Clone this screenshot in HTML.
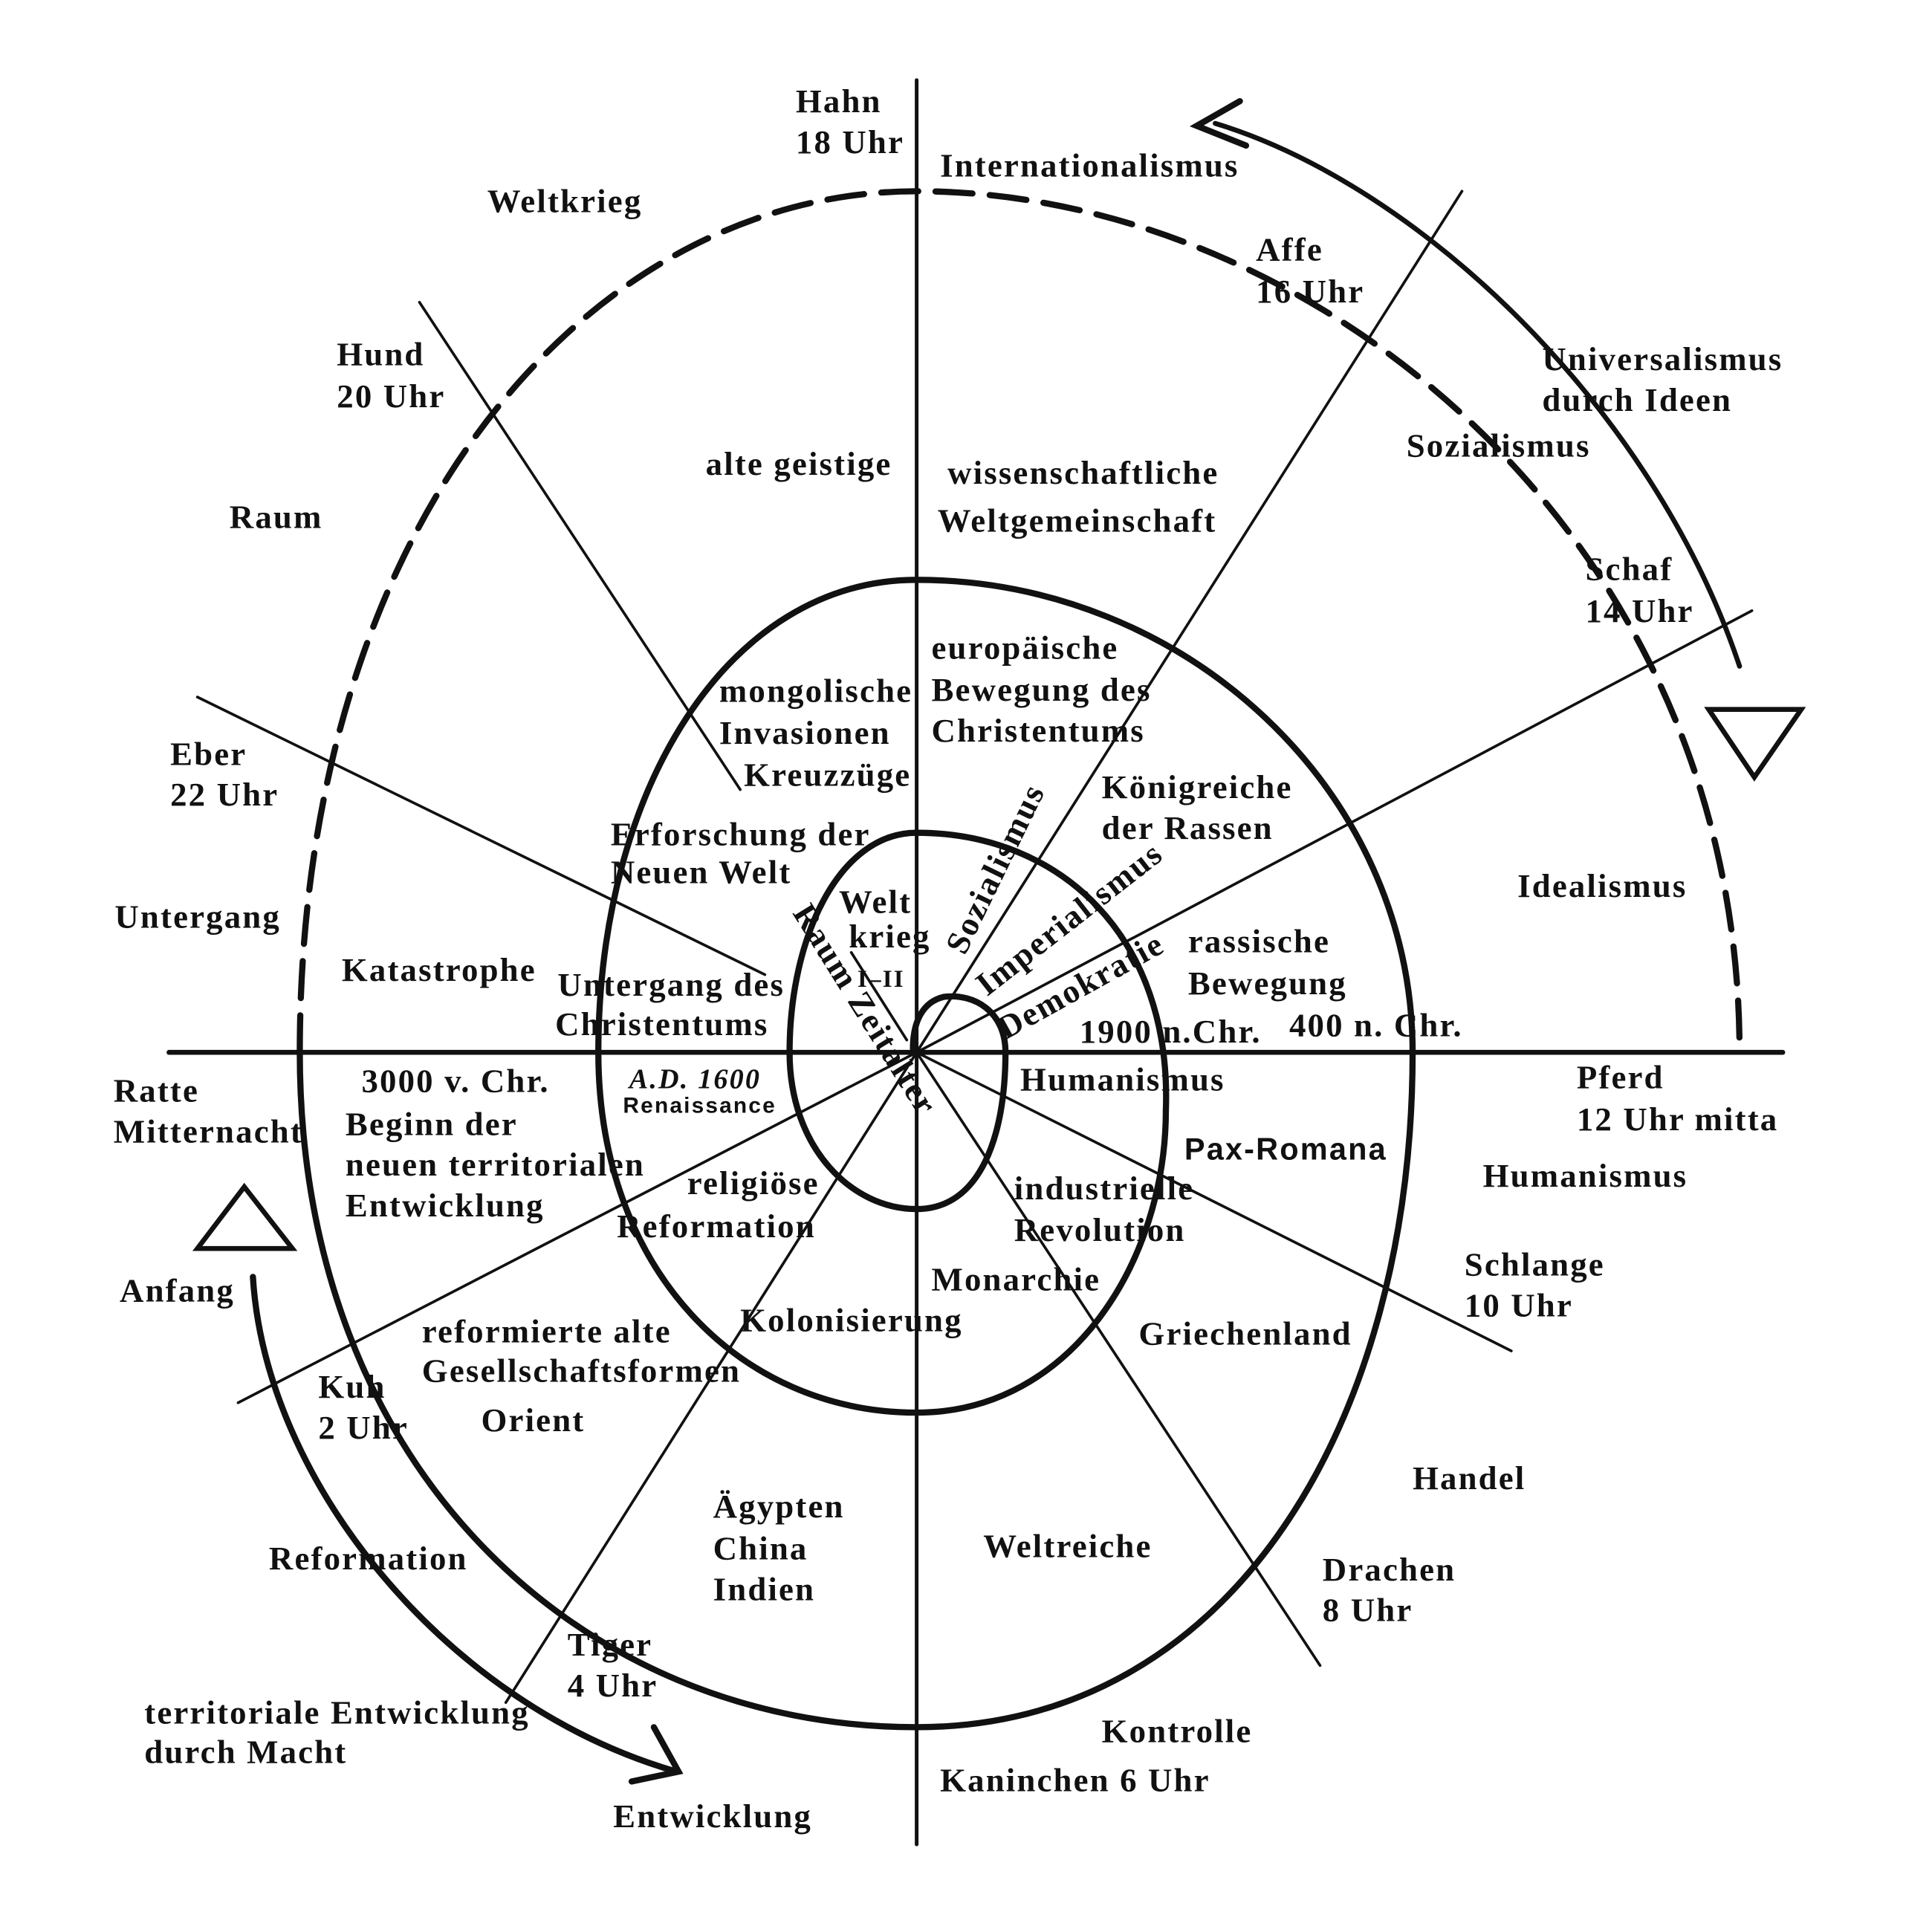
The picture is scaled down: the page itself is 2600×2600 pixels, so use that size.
<!DOCTYPE html>
<html><head><meta charset="utf-8"><style>
html,body{margin:0;padding:0;background:#fff}
svg{display:block}
text{font-family:"Liberation Serif",serif;font-weight:bold;font-size:27px;letter-spacing:1.3px;fill:#111}
</style></head><body>
<svg width="2600" height="2600" viewBox="0 0 1566 1566" xmlns="http://www.w3.org/2000/svg">
<g stroke="#111" fill="none" stroke-linecap="round">
<line x1="137" y1="853" x2="1445" y2="853" stroke-width="4"/>
<line x1="743" y1="65" x2="743" y2="1495" stroke-width="3"/>
<path d="M243,853 C243,420 480,155 743,155 C1060,155 1410,430 1410,853" stroke-width="5" stroke-dasharray="30,14"/>
<path d="M243,853 C243,1190 470,1400 743,1400 C1000,1400 1145,1150 1145,853 C1145,640 960,470 743,470 C590,470 485,640 485,853 C485,1030 600,1145 743,1145 C870,1145 945,1020 945,900" stroke-width="5"/>
<path d="M945,900 C950,760 860,675 743,675 C680,675 640,760 640,853 C640,930 690,980 743,980 C795,980 815,920 815,853 C815,820 790,805 765,808 C748,812 740,828 740,850" stroke-width="5"/>
<g stroke-width="2.2">
<line x1="743" y1="853" x2="1185" y2="155"/>
<line x1="743" y1="853" x2="1420" y2="495"/>
<line x1="340" y1="245" x2="600" y2="640"/>
<line x1="690" y1="772" x2="735" y2="843"/>
<line x1="160" y1="565" x2="620" y2="790"/>
<line x1="743" y1="853" x2="1225" y2="1095"/>
<line x1="743" y1="853" x2="1070" y2="1350"/>
<line x1="743" y1="853" x2="193" y2="1137"/>
<line x1="743" y1="853" x2="410" y2="1380"/>
</g>
<path d="M985,100 C1150,150 1340,330 1410,540" stroke-width="4"/>
<path d="M1005,82 L970,102 L1010,118" stroke-width="5"/>
<path d="M205,1035 C215,1200 360,1380 545,1435" stroke-width="5"/>
<path d="M530,1400 L550,1436 L512,1444" stroke-width="5"/>
<path d="M1385,575 L1460,575 L1422,630 Z" stroke-width="4"/>
<path d="M160,1012 L237,1012 L198,962 Z" stroke-width="4"/>
</g>
<g>
<text x="645" y="91">Hahn</text><text x="645" y="124">18 Uhr</text>
<text x="762" y="143">Internationalismus</text>
<text x="395" y="172">Weltkrieg</text>
<text x="1018" y="211">Affe</text><text x="1018" y="245">16 Uhr</text>
<text x="273" y="296">Hund</text><text x="273" y="330">20 Uhr</text>
<text x="1250" y="300">Universalismus</text><text x="1250" y="333">durch Ideen</text>
<text x="1140" y="370">Sozialismus</text>
<text x="572" y="385">alte geistige</text>
<text x="768" y="392">wissenschaftliche</text><text x="760" y="431">Weltgemeinschaft</text>
<text x="186" y="428">Raum</text>
<text x="1285" y="470">Schaf</text><text x="1285" y="504">14 Uhr</text>
<text x="755" y="534">europäische</text><text x="755" y="568">Bewegung des</text><text x="755" y="601">Christentums</text>
<text x="583" y="569">mongolische</text><text x="583" y="603">Invasionen</text><text x="603" y="637">Kreuzzüge</text>
<text x="138" y="620">Eber</text><text x="138" y="653">22 Uhr</text>
<text x="893" y="647">Königreiche</text><text x="893" y="680">der Rassen</text>
<text x="495" y="685">Erforschung der</text><text x="495" y="716">Neuen Welt</text>
<text x="1230" y="727">Idealismus</text>
<text x="93" y="752">Untergang</text>
<text x="680" y="740">Welt</text><text x="688" y="768">krieg</text><text x="695" y="800" style="font-size:20px">I–II</text>
<text x="963" y="772">rassische</text><text x="963" y="806">Bewegung</text>
<text x="277" y="795">Katastrophe</text>
<text x="452" y="807">Untergang des</text><text x="450" y="839">Christentums</text>
<text x="875" y="845">1900 n.Chr.</text><text x="1045" y="840">400 n. Chr.</text>
<text x="92" y="893">Ratte</text><text x="92" y="926">Mitternacht</text>
<text x="293" y="885">3000 v. Chr.</text>
<text x="510" y="882" style="font-style:italic;font-size:23px">A.D. 1600</text>
<text x="505" y="902" style="font-size:18px;font-family:'Liberation Sans',sans-serif">Renaissance</text>
<text x="827" y="884">Humanismus</text>
<text x="1278" y="882">Pferd</text><text x="1278" y="916">12 Uhr mitta</text>
<text x="280" y="920">Beginn der</text><text x="280" y="953">neuen territorialen</text><text x="280" y="986">Entwicklung</text>
<text x="960" y="940" style="font-family:'Liberation Sans',sans-serif;font-size:25px">Pax-Romana</text>
<text x="1202" y="962">Humanismus</text>
<text x="557" y="968">religiöse</text><text x="500" y="1003">Reformation</text>
<text x="822" y="972">industrielle</text><text x="822" y="1006">Revolution</text>
<text x="1187" y="1034">Schlange</text><text x="1187" y="1067">10 Uhr</text>
<text x="97" y="1055">Anfang</text>
<text x="755" y="1046">Monarchie</text>
<text x="600" y="1079">Kolonisierung</text>
<text x="342" y="1088">reformierte alte</text><text x="342" y="1120">Gesellschaftsformen</text>
<text x="923" y="1090">Griechenland</text>
<text x="258" y="1133">Kuh</text><text x="258" y="1166">2 Uhr</text>
<text x="390" y="1160">Orient</text>
<text x="1145" y="1207">Handel</text>
<text x="578" y="1230">Ägypten</text><text x="578" y="1264">China</text><text x="578" y="1297">Indien</text>
<text x="797" y="1262">Weltreiche</text>
<text x="218" y="1272">Reformation</text>
<text x="1072" y="1281">Drachen</text><text x="1072" y="1314">8 Uhr</text>
<text x="460" y="1342">Tiger</text><text x="460" y="1375">4 Uhr</text>
<text x="117" y="1397">territoriale Entwicklung</text><text x="117" y="1429">durch Macht</text>
<text x="893" y="1412">Kontrolle</text>
<text x="762" y="1452">Kaninchen 6 Uhr</text>
<text x="497" y="1481">Entwicklung</text>
<text transform="translate(642,740) rotate(58)">Raum Zeitalter</text>
<text transform="translate(782,775) rotate(-64)">Sozialismus</text>
<text transform="translate(800,808) rotate(-38)">Imperialismus</text>
<text transform="translate(815,843) rotate(-29)">Demokratie</text>
</g>
</svg>
</body></html>
